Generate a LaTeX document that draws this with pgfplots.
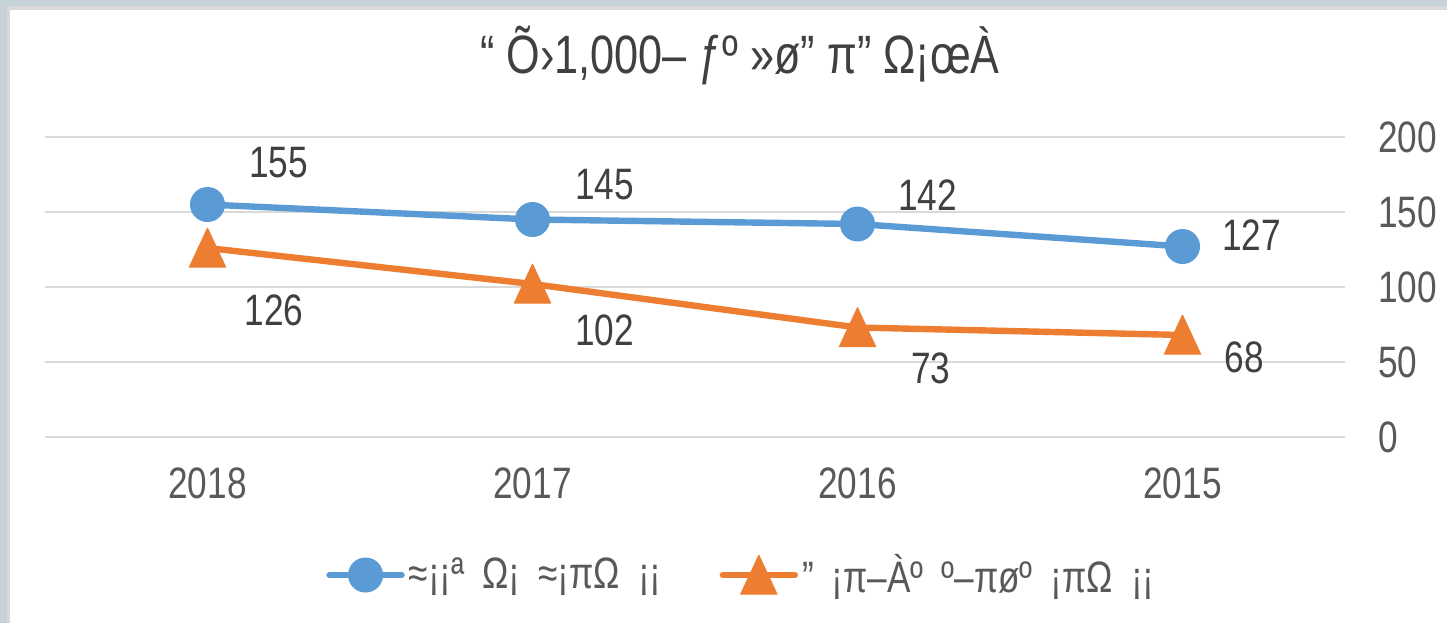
\documentclass[border=0pt]{standalone}
\usepackage{fontspec}
\setmainfont{Liberation Sans}[FakeStretch=0.8]
\usepackage{pgfplots}
\pgfplotsset{compat=1.18}
\definecolor{sblue}{HTML}{5B9BD5}
\definecolor{sorange}{HTML}{ED7D31}
\definecolor{gridc}{HTML}{D9D9D9}
\definecolor{txt}{HTML}{404040}
\definecolor{tickc}{HTML}{595959}
\definecolor{framec}{HTML}{C6D2DA}
\newcommand{\lblfont}{\fontsize{22}{26}\selectfont}
\newcommand{\legfont}{\fontsize{22}{26}\selectfont\spaceskip=9pt plus 1pt}
\begin{document}
\begin{tikzpicture}
\fill[framec] (-22.5pt,-93pt) rectangle (701pt,218.5pt);
\fill[gridc] (-19pt,-93pt) rectangle (701pt,215.5pt);
\fill[white] (-17.5pt,-93pt) rectangle (701pt,213.5pt);
\begin{axis}[
  at={(0,0)}, anchor=south west,
  scale only axis, width=650pt, height=150pt,
  xmin=-0.5, xmax=3.5, ymin=0, ymax=200,
  xtick={0,1,2,3}, xticklabels={2018,2017,2016,2015},
  ytick={0,50,100,150,200},
  yticklabel pos=right,
  axis line style={draw=none},
  major tick length=0pt,
  ymajorgrids, grid style={gridc, line width=1.2pt},
  /pgf/number format/assume math mode=true,
  tick label style={font=\lblfont, text=tickc},
  xticklabel style={anchor=center, yshift=-23pt},
  yticklabel style={anchor=west, xshift=13pt},
  title={“ Õ›1,000– ƒº »ø” π” Ω¡œÀ},
  title style={at={(axis description cs:0.5346,1.23)}, anchor=center, font=\fontsize{27}{32}\selectfont, text=txt},
  legend columns=2,
  legend style={draw=none, fill=none, at={(0.5365,-0.46)}, anchor=center,
    font=\legfont, text=tickc,
    /tikz/every even column/.append style={column sep=27pt}},
  legend image code/.code={
    \draw[mark repeat=2,mark phase=2,line cap=round,#1] plot coordinates {(0pt,0pt) (18pt,0pt) (36pt,0pt)};
  },
  clip=false,
]
\addplot[color=sblue, line width=3.2pt, line join=round, mark=*, mark size=8.5pt,
  mark options={fill=sblue, draw=sblue, line width=0.5pt}]
  coordinates {(0,155) (1,145) (2,142) (3,127)};
\addlegendentry{≈¡¡ª Ω¡ ≈¡πΩ ¡¡}
\addplot[color=sorange, line width=3.2pt, line join=round, mark=triangle*, mark size=10.5pt,
  mark options={fill=sorange, draw=sorange, line width=0.5pt, yscale=1.24, yshift=-2.5pt}]
  coordinates {(0,126) (1,102) (2,73) (3,68)};
\addlegendentry{” ¡π–Àº º–πøº ¡πΩ ¡¡}
\begin{scope}[every node/.style={font=\lblfont, text=txt}]
\node at (axis cs:0.219,182.7) {155};
\node at (axis cs:1.222,168) {145};
\node at (axis cs:2.216,161.3) {142};
\node at (axis cs:3.213,134.7) {127};
\node at (axis cs:0.204,84.7) {126};
\node at (axis cs:1.222,71.3) {102};
\node at (axis cs:2.225,46) {73};
\node at (axis cs:3.19,53.3) {68};
\end{scope}
\end{axis}
\pgfresetboundingbox
\path[use as bounding box] (-22.5pt,-93pt) rectangle (701pt,218.5pt);
\end{tikzpicture}
\end{document}
